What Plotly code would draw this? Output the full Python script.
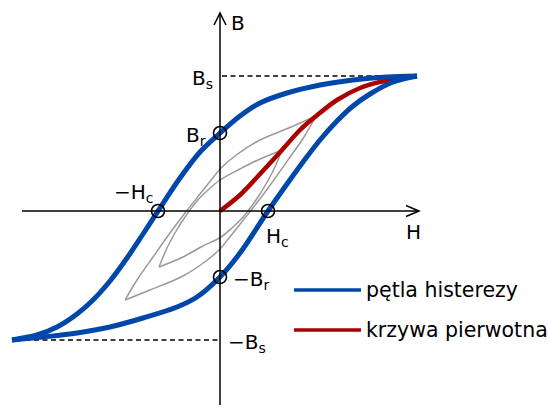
import plotly.graph_objects as go

# Hysteresis loop: major loop branches (H, B in arbitrary units)
loop_desc_H = [1.97, 1.67, 1.33, 1.00, 0.67, 0.40, 0.20, 0.00, -0.20, -0.40, -0.62,
               -0.77, -0.93, -1.10, -1.27, -1.43, -1.63, -1.83, -2.08]
loop_desc_B = [1.35, 1.34, 1.31, 1.26, 1.18, 1.08, 0.95, 0.78, 0.59, 0.33, 0.00,
               -0.23, -0.47, -0.70, -0.89, -1.03, -1.16, -1.24, -1.29]

loop_asc_H = [-2.08, -1.77, -1.43, -1.10, -0.77, -0.43, -0.23, 0.00, 0.20, 0.48,
              0.67, 0.83, 1.00, 1.17, 1.33, 1.50, 1.73, 1.97]
loop_asc_B = [-1.29, -1.26, -1.22, -1.16, -1.07, -0.96, -0.86, -0.66, -0.42, 0.00,
              0.27, 0.49, 0.71, 0.90, 1.05, 1.17, 1.29, 1.35]

# Initial magnetisation curve
virgin_H = [0.00, 0.20, 0.40, 0.62, 0.80, 0.95, 1.17, 1.40, 1.60, 1.80, 1.97]
virgin_B = [0.00, 0.16, 0.37, 0.61, 0.81, 0.94, 1.11, 1.23, 1.29, 1.33, 1.35]

# Minor loops
minor1_up_H = [-0.95, -0.83, -0.67, -0.50, -0.35, -0.20, -0.08, 0.01, 0.15, 0.38, 0.71, 0.96]
minor1_up_B = [-0.89, -0.69, -0.46, -0.22, -0.02, 0.17, 0.32, 0.43, 0.55, 0.70, 0.84, 0.95]
minor1_dn_H = [0.96, 0.84, 0.68, 0.51, 0.36, 0.21, 0.09, 0.00, -0.14, -0.37, -0.70, -0.95]
minor1_dn_B = [0.95, 0.74, 0.51, 0.27, 0.07, -0.12, -0.27, -0.38, -0.50, -0.65, -0.79, -0.89]

minor2_up_H = [-0.61, -0.53, -0.45, -0.37, -0.23, -0.12, 0.00, 0.20, 0.38, 0.62]
minor2_up_B = [-0.56, -0.37, -0.22, -0.09, 0.10, 0.21, 0.31, 0.42, 0.51, 0.61]
minor2_dn_H = [0.62, 0.54, 0.46, 0.38, 0.24, 0.13, 0.01, -0.19, -0.37, -0.61]
minor2_dn_B = [0.61, 0.42, 0.27, 0.14, -0.05, -0.16, -0.26, -0.36, -0.46, -0.56]

# Characteristic points
B_SAT, B_SAT_NEG = 1.35, -1.29
H_TIP, H_TIP_NEG = 1.97, -2.08
B_REM, B_REM_NEG = 0.78, -0.66
H_COE, H_COE_NEG = 0.48, -0.62

BLUE = "#0047ab"
RED = "#aa0000"
GRAY = "#9a9a9a"
FONT = "DejaVu Sans"

fig = go.Figure()

def curve(x, y, color, width):
    fig.add_trace(go.Scatter(x=x, y=y, mode="lines",
                             line=dict(color=color, width=width, shape="spline", smoothing=1.0),
                             hoverinfo="skip"))

for hx, by in [(minor1_up_H, minor1_up_B), (minor1_dn_H, minor1_dn_B),
               (minor2_up_H, minor2_up_B), (minor2_dn_H, minor2_dn_B)]:
    curve(hx, by, GRAY, 1.5)

# Saturation guide lines
fig.add_trace(go.Scatter(x=[0.02, H_TIP], y=[B_SAT, B_SAT], mode="lines",
                         line=dict(color="black", width=1.5, dash="5px,3.5px")))
fig.add_trace(go.Scatter(x=[H_TIP_NEG + 0.05, 0.0], y=[B_SAT_NEG, B_SAT_NEG], mode="lines",
                         line=dict(color="black", width=1.5, dash="5px,3.5px")))

curve(virgin_H, virgin_B, RED, 4.5)
curve(loop_desc_H, loop_desc_B, BLUE, 5)
curve(loop_asc_H, loop_asc_B, BLUE, 5)

# Axes with arrowheads
fig.add_shape(type="line", x0=-1.98, y0=0, x1=1.99, y1=0, line=dict(color="black", width=1.5))
fig.add_shape(type="line", x0=0, y0=-2.0, x1=0, y1=1.98, line=dict(color="black", width=1.5))
fig.add_shape(type="path", path="M 1.86 0.055 L 1.99 0 L 1.86 -0.055",
              line=dict(color="black", width=1.5))
fig.add_shape(type="path", path="M -0.06 1.86 L 0 1.98 L 0.06 1.86",
              line=dict(color="black", width=1.5))

# Marked points
fig.add_trace(go.Scatter(x=[0, 0, H_COE, H_COE_NEG], y=[B_REM, B_REM_NEG, 0, 0],
                         mode="markers",
                         marker=dict(symbol="circle-open", size=13, color="black",
                                     line=dict(width=1.6, color="black"))))

def label(text, x, y, xanchor, yanchor="middle", size=20):
    fig.add_annotation(text=text, x=x, y=y, xref="x", yref="y", showarrow=False,
                       xanchor=xanchor, yanchor=yanchor,
                       font=dict(family=FONT, size=size, color="black"))

label("B", 0.09, 1.88, "left")
label("H", 1.93, -0.21, "center")
label("B<sub>s</sub>", -0.05, B_SAT - 0.03, "right")
label("B<sub>r</sub>", -0.12, B_REM - 0.03, "right")
label("−H<sub>c</sub>", H_COE_NEG - 0.02, 0.18, "right")
label("H<sub>c</sub>", H_COE - 0.04, -0.26, "left")
label("−B<sub>r</sub>", 0.11, B_REM_NEG - 0.03, "left")
label("−B<sub>s</sub>", 0.06, B_SAT_NEG - 0.03, "left")

# Legend
for yy, col, txt in [(-0.79, BLUE, "pętla histerezy"), (-1.19, RED, "krzywa pierwotna")]:
    fig.add_shape(type="line", x0=0.74, x1=1.41, y0=yy, y1=yy, line=dict(color=col, width=3.5))
    label(txt, 1.44, yy, "left", size=20.5)

fig.update_layout(
    width=548, height=405,
    margin=dict(l=0, r=0, t=0, b=0),
    paper_bgcolor="white", plot_bgcolor="white",
    showlegend=False,
    xaxis=dict(range=[-2.20, 3.28], visible=False, fixedrange=True),
    yaxis=dict(range=[-1.94, 2.11], visible=False, fixedrange=True),
)

fig.write_html("out.html")
